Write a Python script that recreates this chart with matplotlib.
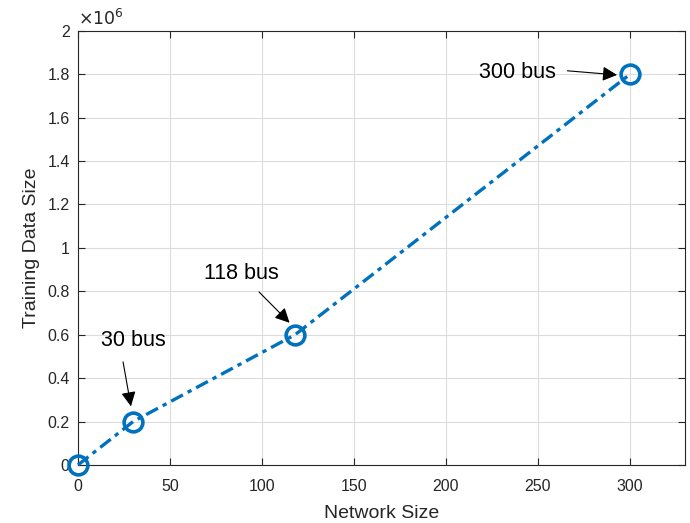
import matplotlib
matplotlib.use("Agg")
import matplotlib.pyplot as plt
from matplotlib.ticker import FuncFormatter

network_size = [0, 30, 118, 300]
training_size = [0, 0.2e6, 0.6e6, 1.8e6]
labels = ["30 bus", "118 bus", "300 bus"]

plt.rcParams['font.family'] = ['Liberation Sans', 'DejaVu Sans']

fig = plt.figure(figsize=(6.9, 5.23), dpi=100)
ax = fig.add_axes([0.113, 0.111, 0.880, 0.830])

blue = '#0072BD'
ax.plot(network_size, training_size, linestyle='-.', color=blue, lw=2.4,
        marker='o', markersize=13.5, markerfacecolor='none', markeredgewidth=2.6,
        dashes=(4.0, 1.6, 1.3, 1.6), clip_on=False, zorder=5)

ax.set_xlim(0, 330)
ax.set_ylim(0, 2e6)
ax.set_xticks([0, 50, 100, 150, 200, 250, 300])
ax.set_yticks([i * 0.2e6 for i in range(11)])
ax.yaxis.set_major_formatter(FuncFormatter(lambda v, p: '%g' % round(v / 1e6, 1)))

ax.grid(True, color='#dcdcdc', lw=0.8)
ax.set_axisbelow(True)
for s in ax.spines.values():
    s.set_color('#262626')
    s.set_linewidth(0.8)
ax.tick_params(direction='in', length=5, width=0.8, colors='#262626',
               labelsize=11.5, top=True, right=True, pad=6)
ax.tick_params(axis='x', pad=10)
ax.tick_params(axis='x', labeltop=False)
ax.tick_params(axis='y', labelright=False)

ax.set_xlabel('Network Size', fontsize=14, color='#262626', labelpad=8)
ax.set_ylabel('Training Data Size', fontsize=14, color='#262626', labelpad=5)
ax.text(0.0, 1.005, r'$\times 10^{6}$', transform=ax.transAxes, fontsize=12.5,
        color='#262626', ha='left', va='bottom', family='DejaVu Sans')

# annotations: (text pos, arrow tail, arrow head)
text_pos = [(30, 0.575e6), (89, 0.88e6), (239, 1.81e6)]
tails = [(24.5, 0.475e6), (98.4, 0.797e6), (266, 1.816e6)]
heads = [(28.8, 0.27e6), (115, 0.655e6), (293, 1.797e6)]
for lab, tp, tl, hd in zip(labels, text_pos, tails, heads):
    ax.text(tp[0], tp[1], lab, fontsize=15.5, ha='center', va='center', color='k')
    ax.annotate('', xy=hd, xytext=tl,
                arrowprops=dict(arrowstyle='-|>', color='k', lw=0.8,
                                mutation_scale=22, shrinkA=0, shrinkB=0))

fig.savefig('out.png', dpi=100)
